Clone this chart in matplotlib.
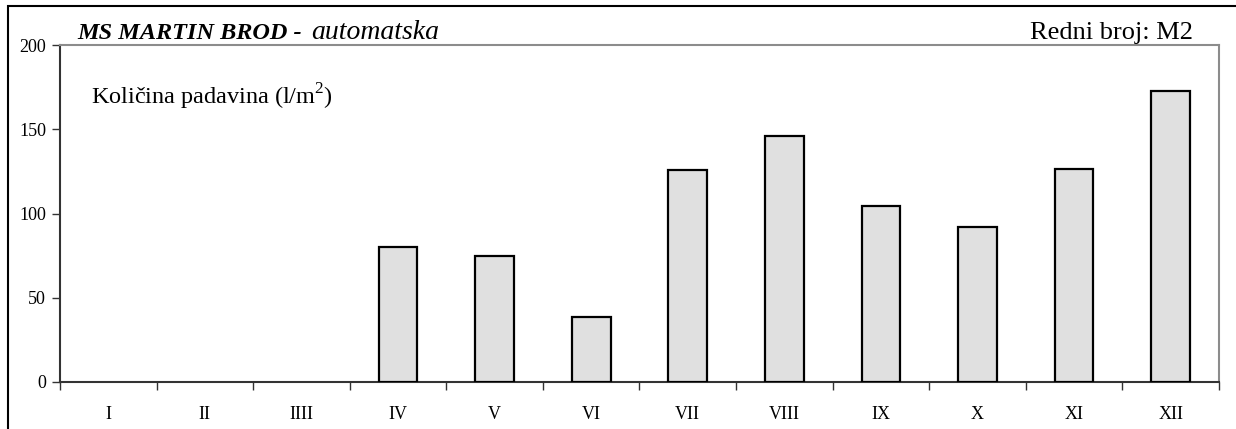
"""
Monthly precipitation bar chart for MS Martin Brod (automatic station).
"""
import matplotlib
matplotlib.use("Agg")
import matplotlib.pyplot as plt
from matplotlib.patches import Rectangle

W, H = 1236, 429

months = ["I", "II", "IIII", "IV", "V", "VI", "VII", "VIII", "IX", "X", "XI", "XII"]
precip = [0, 0, 0, 80, 75, 38.4, 126, 146, 104.4, 92, 126.3, 172.6]
yticks = [0, 50, 100, 150, 200]

plt.rcParams["font.family"] = ["Liberation Serif", "DejaVu Serif"]
plt.rcParams["mathtext.fontset"] = "custom"
plt.rcParams["mathtext.rm"] = "Liberation Serif"


def fx(px):
    return px / W


def fy(py):
    return 1 - py / H


fig = plt.figure(figsize=(W / 100, H / 100), dpi=100)
ax = fig.add_axes([fx(60), fy(382), fx(1219) - fx(60), fy(45) - fy(382)])

x = list(range(len(months)))
# empty months get no outline at all
lws = [1.6 if v > 0 else 0 for v in precip]
ax.bar(x, precip, width=0.4, color="#e0e0e0", edgecolor="black", linewidth=lws, zorder=3)

ax.set_xlim(-0.5, len(months) - 0.5)
ax.set_ylim(0, 200)
ax.set_yticks(yticks)
ax.set_yticklabels([str(v) for v in yticks], fontsize=13)

# tick marks sit between categories; labels centred under each bar
ax.set_xticks([i - 0.5 for i in range(len(months) + 1)])
ax.set_xticklabels([])
ax.set_xticks(x, minor=True)
ax.set_xticklabels(months, minor=True, fontsize=13)
ax.tick_params(axis="x", which="major", direction="out", length=6, width=1, color="#333333")
ax.tick_params(axis="x", which="minor", length=0, pad=17)
ax.tick_params(axis="y", direction="out", length=6, width=1, color="#333333", pad=4)

for side in ("left", "bottom"):
    ax.spines[side].set_color("#333333")
    ax.spines[side].set_linewidth(1.5)
for side in ("top", "right"):
    ax.spines[side].set_color("#8c8c8c")
    ax.spines[side].set_linewidth(1.5)

# outer frame of the sheet
fig.patches.append(Rectangle((fx(8), fy(H + 10)), 1.1, fy(6) - fy(H + 10),
                             transform=fig.transFigure, fill=False,
                             edgecolor="black", linewidth=1.5))

t1 = fig.text(fx(77), fy(39), "MS MARTIN BROD -", fontsize=17.5,
              fontweight="bold", fontstyle="italic", va="baseline")
fig.canvas.draw()
bb = t1.get_window_extent()
fig.text(fx(bb.x1 + 10), fy(39), "automatska", fontsize=20,
         fontstyle="italic", va="baseline")
fig.text(fx(1193), fy(39), "Redni broj: M2", fontsize=19, ha="right", va="baseline")

ax.text(fx(91), fy(105), "Količina padavina (l/m$^2$)", fontsize=17.5,
        transform=fig.transFigure, va="baseline")

fig.savefig("out.png", dpi=100)
